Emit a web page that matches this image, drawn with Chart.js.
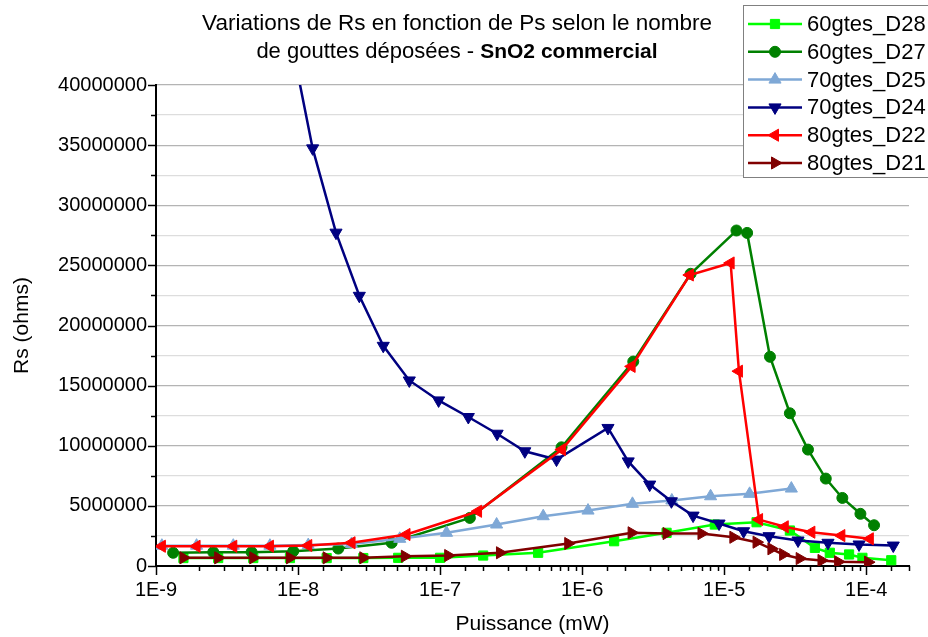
<!DOCTYPE html>
<html>
<head>
<meta charset="utf-8">
<script src="https://cdn.jsdelivr.net/npm/chart.js@4"></script>
<style>
  html, body { margin: 0; padding: 0; background: #ffffff; }
  #wrap { width: 928px; height: 637px; position: relative; }
</style>
</head>
<body>
<div id="wrap"><canvas id="c" width="928" height="637"></canvas></div>
<script>
// ---------- data (x = Puissance in mW, y = Rs in ohms) ----------
const TITLE_LINE1 = "Variations de Rs en fonction de Ps selon le nombre";
const TITLE_LINE2_NORMAL = "de gouttes déposées - ";
const TITLE_LINE2_BOLD = "SnO2 commercial";
const X_TITLE = "Puissance (mW)";
const Y_TITLE = "Rs (ohms)";

const seriesNames = ["60gtes_D28", "60gtes_D27", "70gtes_D25", "70gtes_D24", "80gtes_D22", "80gtes_D21"];

const d28_x = [1.56e-9, 2.74e-9, 4.84e-9, 8.77e-9, 1.59e-8, 2.88e-8, 5.07e-8, 1.0e-7, 2.01e-7, 4.9e-7, 1.68e-6, 3.93e-6, 8.59e-6, 1.69e-5, 2.9e-5, 4.35e-5, 5.54e-5, 7.57e-5, 9.4e-5, 1.5e-4];
const d28_y = [660000, 660000, 660000, 660000, 660000, 660000, 680000, 680000, 870000, 1100000, 2060000, 2760000, 3450000, 3640000, 2950000, 1510000, 1100000, 960000, 680000, 480000];

const d27_x = [1.32e-9, 2.53e-9, 4.71e-9, 9.25e-9, 1.92e-8, 4.56e-8, 1.62e-7, 7.16e-7, 2.29e-6, 5.8e-6, 1.22e-5, 1.45e-5, 2.10e-5, 2.9e-5, 3.89e-5, 5.19e-5, 6.79e-5, 9.1e-5, 1.135e-4];
const d27_y = [1100000, 1150000, 1150000, 1230000, 1450000, 1930000, 4000000, 9870000, 17000000, 24300000, 27900000, 27700000, 17400000, 12700000, 9680000, 7270000, 5660000, 4340000, 3390000];

const d25_x = [1.1e-9, 1.93e-9, 3.5e-9, 6.34e-9, 1.18e-8, 2.38e-8, 5.2e-8, 1.11e-7, 2.5e-7, 5.32e-7, 1.1e-6, 2.26e-6, 4.28e-6, 8.02e-6, 1.51e-5, 2.97e-5];
const d25_y = [1690000, 1690000, 1690000, 1690000, 1740000, 1830000, 2260000, 2760000, 3450000, 4140000, 4610000, 5170000, 5450000, 5800000, 6000000, 6440000];

const d24_x = [8.85e-9, 1.267e-8, 1.85e-8, 2.70e-8, 3.98e-8, 6.07e-8, 9.76e-8, 1.58e-7, 2.52e-7, 3.95e-7, 6.6e-7, 1.52e-6, 2.11e-6, 2.99e-6, 4.25e-6, 6.04e-6, 9.2e-6, 1.37e-5, 2.07e-5, 3.31e-5, 5.38e-5, 8.9e-5, 1.55e-4];
const d24_y = [44000000, 34730000, 27720000, 22470000, 18310000, 15430000, 13770000, 12390000, 11000000, 9540000, 8850000, 11480000, 8700000, 6770000, 5380000, 4190000, 3530000, 2890000, 2480000, 2120000, 1930000, 1790000, 1700000];

const d22_x = [1.1e-9, 1.93e-9, 3.5e-9, 6.34e-9, 1.18e-8, 2.38e-8, 5.8e-8, 1.85e-7, 7.2e-7, 2.23e-6, 5.73e-6, 1.11e-5, 1.27e-5, 1.76e-5, 2.67e-5, 4.11e-5, 6.68e-5, 1.06e-4];
const d22_y = [1640000, 1640000, 1640000, 1640000, 1700000, 1930000, 2620000, 4550000, 9680000, 16600000, 24200000, 25200000, 16200000, 3860000, 3260000, 2810000, 2530000, 2260000];

const d21_x = [1.56e-9, 2.74e-9, 4.84e-9, 8.77e-9, 1.59e-8, 2.88e-8, 5.65e-8, 1.14e-7, 2.64e-7, 7.98e-7, 2.23e-6, 3.93e-6, 6.92e-6, 1.16e-5, 1.69e-5, 2.15e-5, 2.60e-5, 3.40e-5, 4.84e-5, 6.34e-5, 1.03e-4];
const d21_y = [680000, 680000, 680000, 680000, 680000, 680000, 810000, 870000, 1100000, 1870000, 2760000, 2700000, 2700000, 2390000, 1980000, 1430000, 960000, 620000, 460000, 350000, 320000];

const X_MIN = 1e-9, X_MAX = 2e-4;
const Y_MIN = 0, Y_MAX = 40000000, Y_STEP = 2500000, Y_LABEL_STEP = 5000000;

// ---------- styling ----------
const FONT = "'Liberation Sans', Arial, sans-serif";
const styles = [
  { color: '#00ff00', pointStyle: 'rect', radius: 6.5, rotation: 0 },
  { color: '#008000', pointStyle: 'circle', radius: 5.5, rotation: 0 },
  { color: '#7fa8d6', pointStyle: 'triangle', radius: 7, rotation: 0 },
  { color: '#000080', pointStyle: 'triangle', radius: 7, rotation: 180 },
  { color: '#ff0000', pointStyle: 'triangle', radius: 7, rotation: 270 },
  { color: '#800000', pointStyle: 'triangle', radius: 7, rotation: 90 }
];
const xsAll = [d28_x, d27_x, d25_x, d24_x, d22_x, d21_x];
const ysAll = [d28_y, d27_y, d25_y, d24_y, d22_y, d21_y];

const datasets = seriesNames.map((name, i) => ({
  label: name,
  data: xsAll[i].map((x, k) => ({ x: x, y: ysAll[i][k] })),
  borderColor: styles[i].color,
  backgroundColor: styles[i].color,
  pointBackgroundColor: styles[i].color,
  pointBorderColor: styles[i].color,
  pointStyle: styles[i].pointStyle,
  pointRadius: styles[i].radius,
  pointHoverRadius: styles[i].radius,
  pointRotation: styles[i].rotation,
  pointBorderWidth: 1,
  borderWidth: 2.5,
  tension: 0,
  fill: false,
  order: seriesNames.length - i
}));

const isMajorX = v => Math.abs(Math.log10(v) - Math.round(Math.log10(v))) < 1e-6;

const decorPlugin = {
  id: 'decor',
  afterDraw(chart) {
    const ctx = chart.ctx;
    const xs = chart.scales.x, ys = chart.scales.y;
    const area = chart.chartArea;
    ctx.save();
    // tick marks
    ctx.strokeStyle = '#000';
    ctx.lineWidth = 1.5;
    xs.ticks.forEach(t => {
      const px = Math.round(xs.getPixelForValue(t.value)) + 0.5;
      const len = isMajorX(t.value) ? 9 : 5;
      ctx.beginPath();
      ctx.moveTo(px, area.bottom);
      ctx.lineTo(px, area.bottom + len);
      ctx.stroke();
    });
    ys.ticks.forEach(t => {
      const py = Math.round(ys.getPixelForValue(t.value)) + 0.5;
      const len = (Math.round(t.value) % Y_LABEL_STEP === 0) ? 8 : 5;
      ctx.beginPath();
      ctx.moveTo(area.left, py);
      ctx.lineTo(area.left - len, py);
      ctx.stroke();
    });

    // title
    ctx.fillStyle = '#000';
    ctx.textBaseline = 'alphabetic';
    ctx.textAlign = 'left';
    const cx = 457;
    ctx.font = "22.5px " + FONT;
    const w1 = ctx.measureText(TITLE_LINE1).width;
    ctx.fillText(TITLE_LINE1, cx - w1 / 2, 30);
    ctx.font = "22px " + FONT;
    const wN = ctx.measureText(TITLE_LINE2_NORMAL).width;
    ctx.font = "bold 21px " + FONT;
    const wB = ctx.measureText(TITLE_LINE2_BOLD).width;
    const start = cx - (wN + wB) / 2;
    ctx.font = "22px " + FONT;
    ctx.fillText(TITLE_LINE2_NORMAL, start, 58);
    ctx.font = "bold 21px " + FONT;
    ctx.fillText(TITLE_LINE2_BOLD, start + wN, 58);

    // legend
    ctx.fillStyle = '#fff';
    ctx.fillRect(743, 5, 200, 173);
    ctx.strokeStyle = '#808080';
    ctx.lineWidth = 1;
    ctx.strokeRect(743.5, 5.5, 200, 172);
    ctx.font = "22px " + FONT;
    ctx.textBaseline = 'middle';
    chart.data.datasets.forEach((ds, i) => {
      const y = 24 + i * 27.8;
      ctx.strokeStyle = ds.borderColor;
      ctx.lineWidth = 2.5;
      ctx.beginPath();
      ctx.moveTo(748, y);
      ctx.lineTo(802, y);
      ctx.stroke();
      ctx.fillStyle = ds.borderColor;
      ctx.strokeStyle = ds.borderColor;
      ctx.lineWidth = 1;
      Chart.helpers.drawPoint(ctx, {
        pointStyle: ds.pointStyle,
        radius: ds.pointRadius,
        rotation: ds.pointRotation,
        borderWidth: 1
      }, 775, y);
      ctx.fillStyle = '#000';
      ctx.fillText(ds.label, 807, y + 1);
    });
    ctx.restore();
  }
};

Chart.defaults.font.family = FONT;
Chart.defaults.color = '#000';

new Chart(document.getElementById('c'), {
  type: 'line',
  data: { datasets: datasets },
  plugins: [decorPlugin],
  options: {
    responsive: false,
    animation: false,
    devicePixelRatio: 1,
    layout: { padding: { top: 85, right: 19, left: 0, bottom: 0 } },
    plugins: { legend: { display: false }, title: { display: false }, tooltip: { enabled: false } },
    scales: {
      x: {
        type: 'logarithmic',
        min: X_MIN,
        max: X_MAX,
        afterFit: s => { s.height = 71; },
        grid: { display: true, drawOnChartArea: false, drawTicks: false },
        border: { display: true, color: '#000', width: 2 },
        ticks: {
          autoSkip: false,
          maxRotation: 0,
          padding: 12,
          font: { size: 20 },
          color: '#000',
          callback: v => isMajorX(v) ? ('1E' + Math.round(Math.log10(v))) : ''
        },
        title: { display: true, text: X_TITLE, font: { size: 21 }, color: '#000', padding: { top: 0, bottom: 0 } }
      },
      y: {
        type: 'linear',
        min: Y_MIN,
        max: Y_MAX,
        afterFit: s => { s.width = 156; },
        grid: {
          drawTicks: false,
          color: c => (c.tick && Math.round(c.tick.value) % Y_LABEL_STEP === 0) ? '#b4b4b4' : '#dddddd',
          lineWidth: 1.2
        },
        border: { display: true, color: '#000', width: 2 },
        ticks: {
          stepSize: Y_STEP,
          autoSkip: false,
          padding: 9,
          font: { size: 20 },
          color: '#000',
          callback: v => (Math.round(v) % Y_LABEL_STEP === 0) ? String(Math.round(v)) : ''
        },
        title: { display: true, text: Y_TITLE, font: { size: 21 }, color: '#000', padding: { top: 10, bottom: 0 } }
      }
    }
  }
});
</script>
</body>
</html>
